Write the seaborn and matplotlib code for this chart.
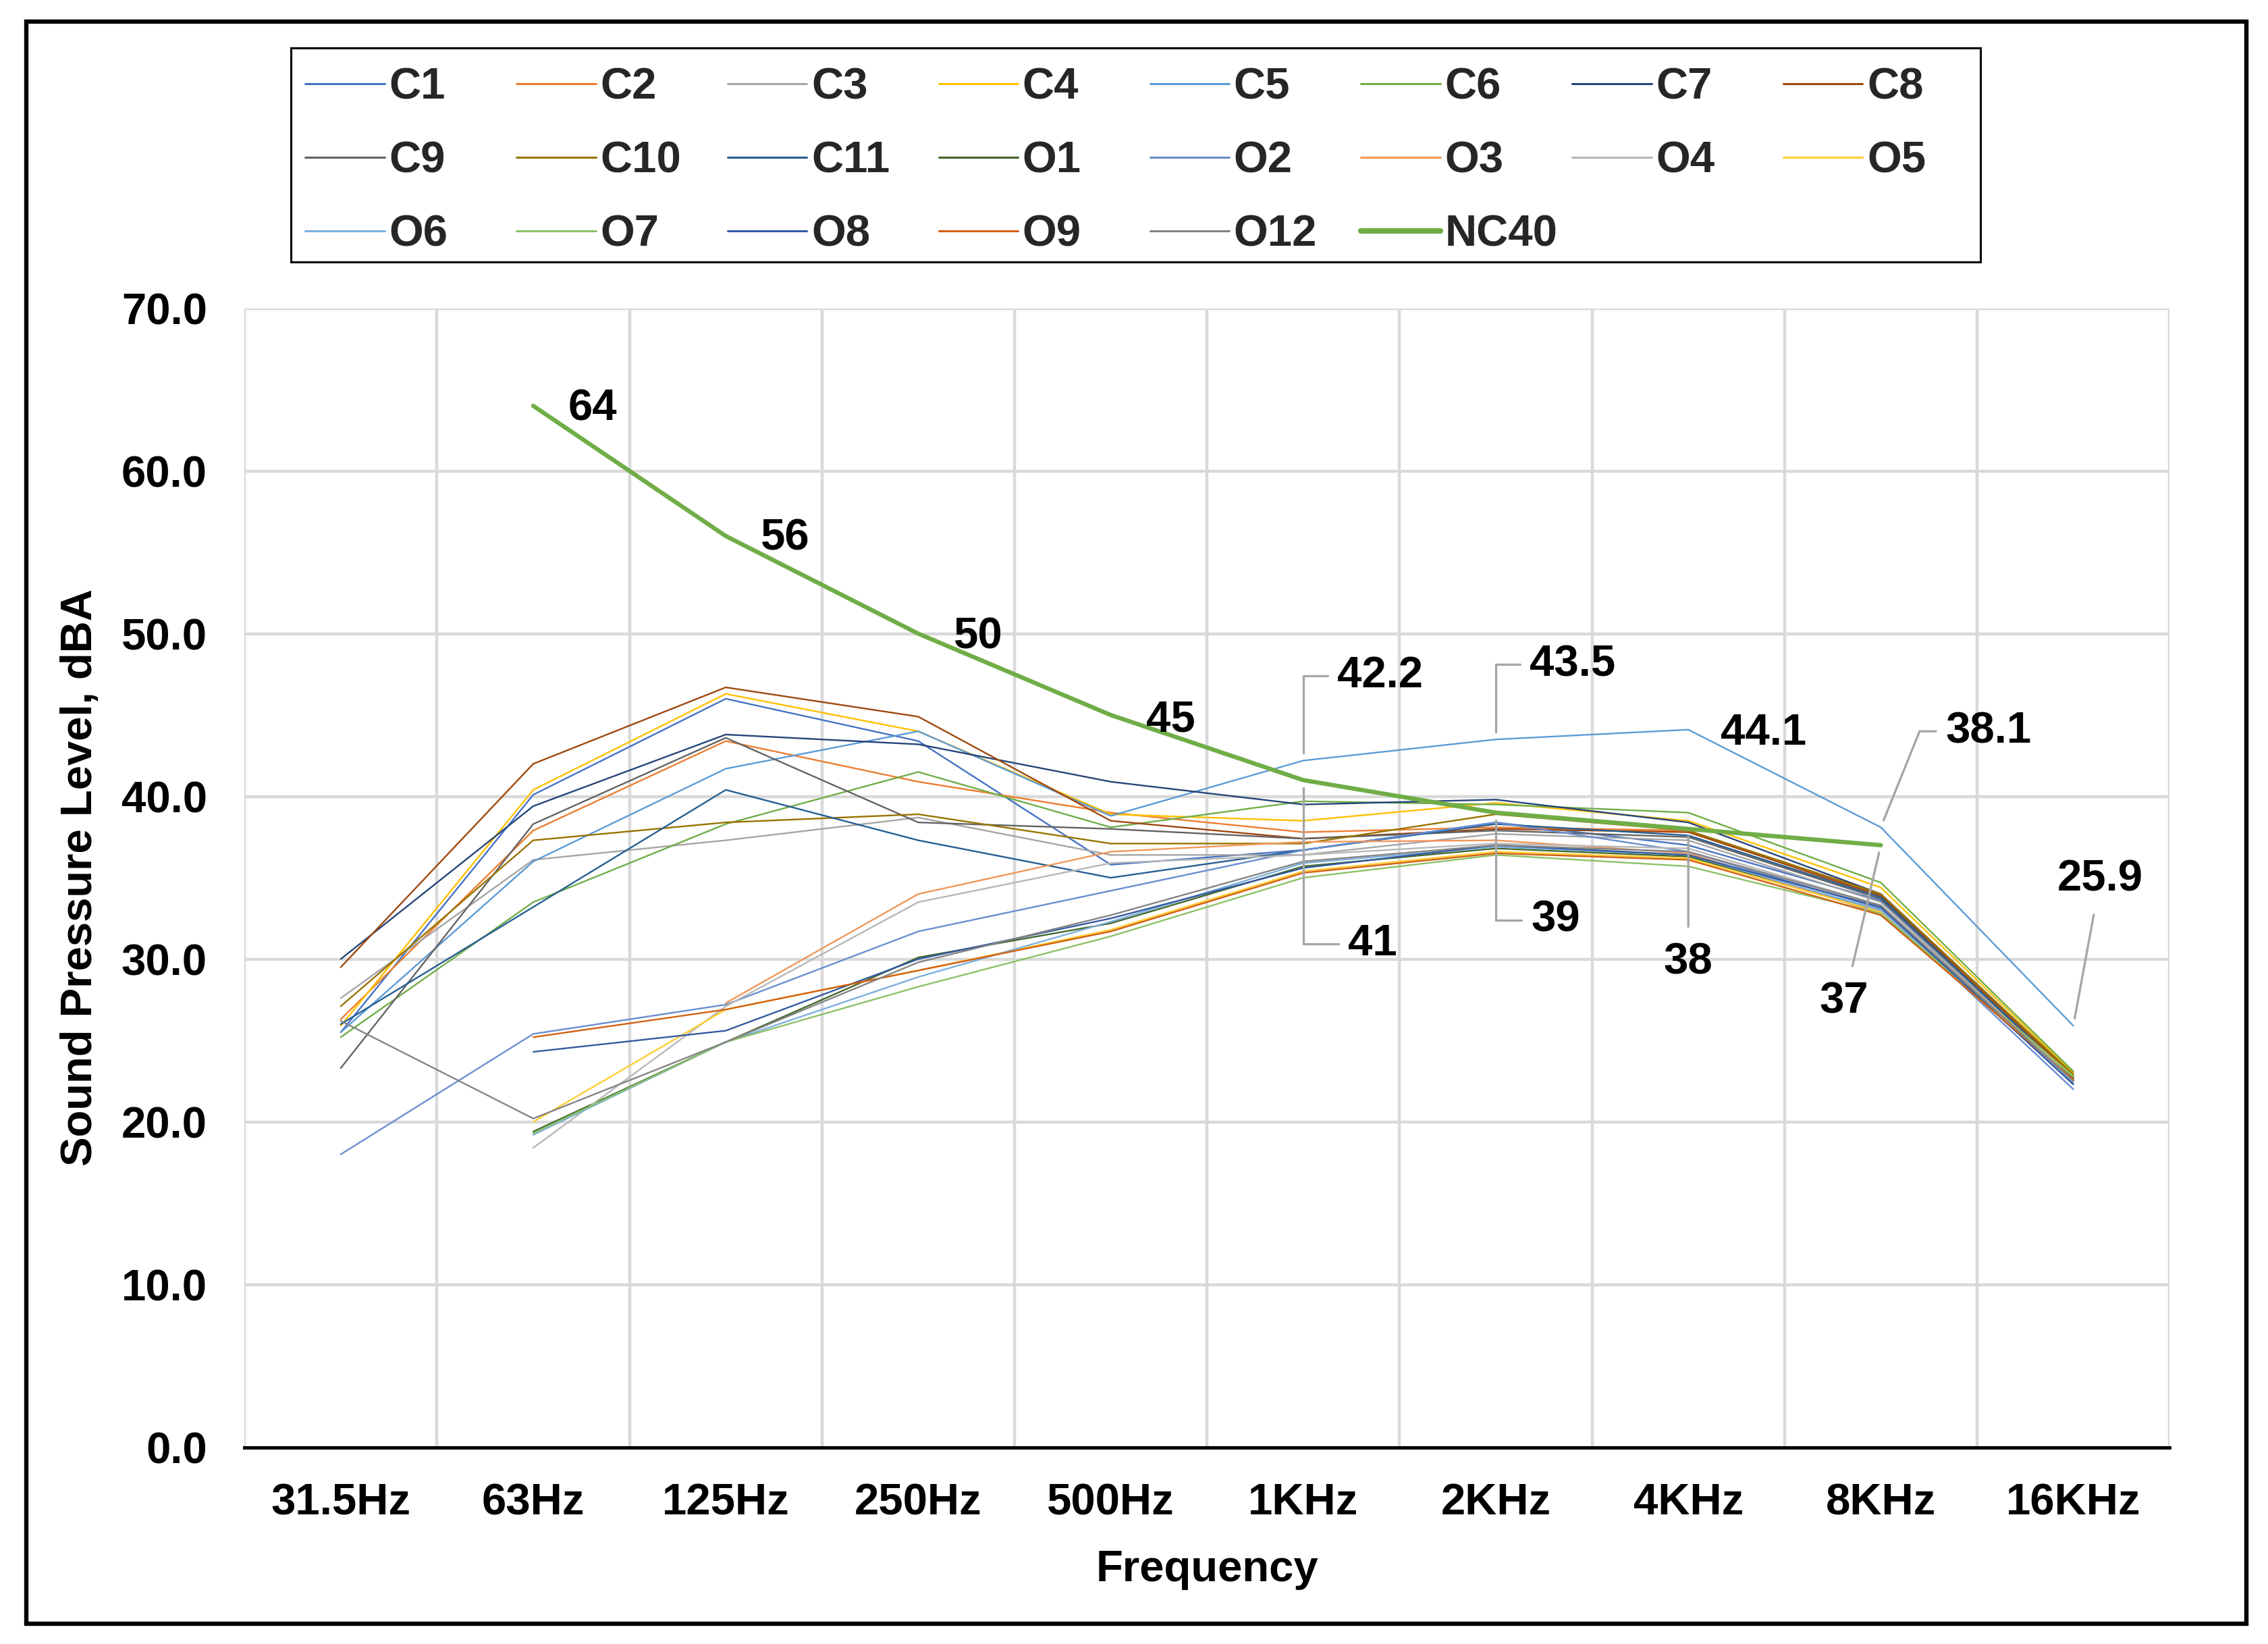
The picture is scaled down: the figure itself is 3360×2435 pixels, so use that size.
import numpy as np
import pandas as pd
import matplotlib
matplotlib.use("Agg")
import matplotlib.pyplot as plt
import seaborn as sns
from matplotlib.lines import Line2D
from matplotlib.patches import Rectangle
from matplotlib.ticker import FormatStrFormatter

nan = np.nan

# frequency bands (category axis)
freqs = ["31.5Hz", "63Hz", "125Hz", "250Hz", "500Hz", "1KHz", "2KHz", "4KHz", "8KHz", "16KHz"]

C1 = [25.5, 40.1, 46.0, 43.4, 35.8, 36.7, 38.4, 37.0, 33.6, 22.5]
C2 = [26.3, 37.9, 43.4, 40.9, 39.0, 37.8, 38.1, 37.9, 33.8, 22.8]
C3 = [27.6, 36.1, 37.3, 38.7, 36.4, 36.4, 37.7, 37.3, 33.5, 22.6]
C4 = [25.9, 40.4, 46.3, 44.0, 38.9, 38.5, 39.6, 38.5, 34.4, 23.0]
C5 = [25.5, 36.0, 41.7, 44.0, 38.8, 42.2, 43.5, 44.1, 38.1, 25.9]
C6 = [25.2, 33.5, 38.3, 41.5, 38.1, 39.7, 39.5, 39.0, 34.7, 23.1]
C7 = [30.0, 39.4, 43.8, 43.2, 40.9, 39.5, 39.8, 38.4, 34.0, 22.9]
C8 = [29.5, 42.0, 46.7, 44.9, 38.5, 37.4, 38.0, 37.8, 33.9, 22.8]
C9 = [23.3, 38.3, 43.6, 38.4, 38.0, 37.4, 37.9, 37.5, 33.7, 22.7]
C10 = [27.1, 37.3, 38.4, 38.9, 37.1, 37.1, 38.9, 37.9, 34.0, 22.9]
C11 = [26.0, 33.2, 40.4, 37.3, 35.0, 36.7, 38.3, 37.6, 33.8, 22.6]
O1 = [nan, 19.4, 24.9, 30.1, 32.2, 35.7, 36.8, 36.3, 33.0, 22.7]
O2 = [18.0, 25.4, 27.2, 31.7, 34.2, 36.7, 38.4, 36.6, 33.1, 22.0]
O3 = [nan, nan, 27.3, 34.0, 36.6, 37.2, 37.3, 36.5, 32.8, 22.5]
O4 = [nan, 18.4, 27.1, 33.5, 35.9, 36.4, 37.1, 36.8, 33.3, 22.6]
O5 = [nan, 20.0, 26.9, 29.3, 31.8, 35.4, 36.6, 36.2, 32.9, 22.8]
O6 = [nan, 19.2, 24.9, 28.9, 32.3, 35.9, 36.9, 36.4, 33.0, 22.4]
O7 = [nan, 19.3, 24.9, 28.3, 31.4, 35.0, 36.4, 35.7, 32.8, 22.8]
O8 = [nan, 24.3, 25.6, 30.0, 32.5, 35.6, 37.0, 36.4, 33.2, 22.3]
O9 = [nan, 25.2, 26.9, 29.3, 31.7, 35.3, 36.5, 36.1, 32.7, 22.6]
O12 = [26.2, 20.2, 24.9, 29.8, 32.7, 36.0, 37.0, 36.6, 33.3, 22.5]
NC40 = [nan, 64, 56, 50, 45, 41, 39, 38, 37, nan]

series = {
    "C1": C1, "C2": C2, "C3": C3, "C4": C4, "C5": C5, "C6": C6, "C7": C7,
    "C8": C8, "C9": C9, "C10": C10, "C11": C11, "O1": O1, "O2": O2, "O3": O3,
    "O4": O4, "O5": O5, "O6": O6, "O7": O7, "O8": O8, "O9": O9, "O12": O12,
}

colors = {
    "C1": "#4472C4", "C2": "#ED7D31", "C3": "#A5A5A5", "C4": "#FFC000",
    "C5": "#5B9BD5", "C6": "#70AD47", "C7": "#264478", "C8": "#9E480E",
    "C9": "#636363", "C10": "#997300", "C11": "#255E91", "O1": "#43682B",
    "O2": "#698ED0", "O3": "#F1975A", "O4": "#B7B7B7", "O5": "#FFCD33",
    "O6": "#7CAFDD", "O7": "#8CC168", "O8": "#335AA1", "O9": "#D26012",
    "O12": "#848484", "NC40": "#70AD47",
}

rows = []
for name, vals in series.items():
    for f, v in zip(freqs, vals):
        rows.append({"series": name, "freq": f, "spl": v})
df = pd.DataFrame(rows).dropna()
nc = pd.DataFrame({"freq": freqs, "spl": NC40}).dropna()

sns.set_theme(style="white")
plt.rcParams["font.family"] = ["Liberation Sans", "DejaVu Sans"]
plt.rcParams["font.weight"] = "bold"
plt.rcParams["axes.labelweight"] = "bold"

FS = 23.5
fig = plt.figure(figsize=(16.8, 12.175), dpi=200)
ax = fig.add_axes([0.1078, 0.1197, 0.8488, 0.6928])

# fix the category order on the axis first
ax.plot(freqs, [nan] * len(freqs))

names = list(series.keys())
sns.lineplot(data=df, x="freq", y="spl", hue="series", hue_order=names,
             palette=colors, linewidth=0.85, sort=False, legend=False, ax=ax)
sns.lineplot(data=nc, x="freq", y="spl", color=colors["NC40"], linewidth=2.3,
             sort=False, legend=False, ax=ax)

ax.set_xlim(-0.5, len(freqs) - 0.5)
ax.set_ylim(0, 70)
ax.set_yticks(np.arange(0, 71, 10))
ax.yaxis.set_major_formatter(FormatStrFormatter("%.1f"))
ax.set_xticks(np.arange(-0.5, len(freqs), 1), minor=True)
ax.grid(False)
ax.grid(axis="y", which="major", color="#D9D9D9", linewidth=1.6)
ax.grid(axis="x", which="minor", color="#D9D9D9", linewidth=1.6)
ax.set_axisbelow(True)
for s in ["top", "right", "left"]:
    ax.spines[s].set_visible(False)
ax.spines["bottom"].set_color("black")
ax.spines["bottom"].set_linewidth(1.8)
ax.spines["bottom"].set_zorder(5)
ax.tick_params(axis="both", which="both", length=0, labelsize=FS, colors="black")
ax.tick_params(axis="x", pad=19)
ax.tick_params(axis="y", pad=20)
ax.set_xlabel("Frequency", fontsize=FS, color="black", labelpad=14)
ax.set_ylabel("Sound Pressure Level, dBA", fontsize=FS, color="black", labelpad=11)

# data labels: (index, dx, dy, leader style)
leader = "#A6A6A6"
nc_labels = [(1, 0.31, -0.2, None), (2, 0.31, -0.15, None), (3, 0.31, -0.2, None),
             (4, 0.31, -0.3, None), (5, 0.36, -10.05, "angle"), (6, 0.31, -6.6, "angle"),
             (7, 0.0, -8.2, "line"), (8, -0.19, -9.6, "line")]
c5_labels = [(5, 0.40, 5.2, "angle"), (6, 0.40, 4.6, "angle"), (7, 0.39, -0.2, None),
             (8, 0.56, 5.9, "angle68"), (9, 0.14, 9.0, "line")]


def add_labels(vals, specs):
    for i, dx, dy, style in specs:
        v = vals[i]
        arrow = None
        if style == "angle":
            arrow = dict(arrowstyle="-", color=leader, lw=1.2, shrinkA=3, shrinkB=4,
                         connectionstyle="angle,angleA=0,angleB=90,rad=0")
        elif style == "angle68":
            arrow = dict(arrowstyle="-", color=leader, lw=1.2, shrinkA=3, shrinkB=4,
                         connectionstyle="angle,angleA=0,angleB=68,rad=0")
        elif style == "line":
            arrow = dict(arrowstyle="-", color=leader, lw=1.2, shrinkA=6, shrinkB=4)
        ax.annotate(f"{v:g}", xy=(i, v), xytext=(i + dx, v + dy), textcoords="data",
                    ha="center", va="center", fontsize=FS, fontweight="bold",
                    color="black", arrowprops=arrow, zorder=6)


add_labels(NC40, nc_labels)
add_labels(C5, c5_labels)

# legend: one frame, eight evenly spaced columns filled row by row
all_names = names + ["NC40"]
ncol = 8
fig.add_artist(Rectangle((0.1282, 0.8407), 0.7449, 0.1303, transform=fig.transFigure,
                         fill=False, edgecolor="black", linewidth=1.1, zorder=3))
for c in range(ncol):
    col = [all_names[k] for k in range(c, len(all_names), ncol)]
    hs = [Line2D([], [], color=colors[n], lw=(3.0 if n == "NC40" else 1.1)) for n in col]
    leg = fig.legend(hs, col, loc="upper left", bbox_to_anchor=(0.1346 + 0.0931 * c, 0.9590),
                     borderaxespad=0, borderpad=0, fontsize=FS, frameon=False,
                     handlelength=1.8, handletextpad=0.1, labelspacing=0.75)
    for t in leg.get_texts():
        t.set_fontweight("bold")

# outer chart border
fig.add_artist(Rectangle((0.0115, 0.0123), 0.9789, 0.9745, transform=fig.transFigure,
                         fill=False, edgecolor="black", linewidth=2.3))

fig.savefig("out.png", dpi=200, facecolor="white")
